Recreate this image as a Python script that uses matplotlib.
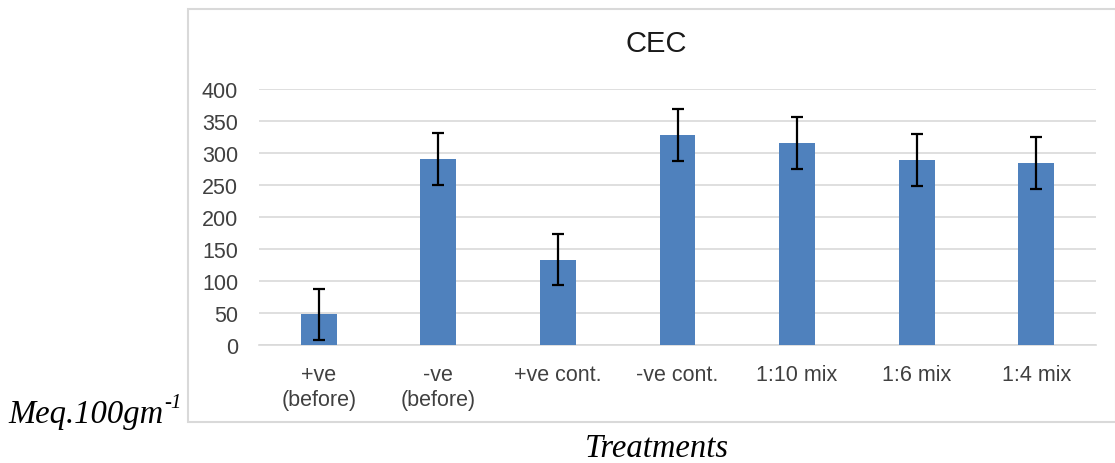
import matplotlib
matplotlib.use('Agg')
import matplotlib.pyplot as plt
from matplotlib.patches import Rectangle
import numpy as np

categories = ['+ve\n(before)', '-ve\n(before)', '+ve cont.', '-ve cont.', '1:10 mix', '1:6 mix', '1:4 mix']
cec = [48, 291, 133, 328, 316, 289, 284]
err = [40, 41, 40, 40, 41, 41, 41]
yticks = [0, 50, 100, 150, 200, 250, 300, 350, 400]

W, H = 1115, 464
fig = plt.figure(figsize=(W/100.0, H/100.0), dpi=100, facecolor='w')

# outer chart border
fig.patches.append(Rectangle((188.0/W, 1-423.0/H), (1116.0-188.0)/W, (423.0-10.0)/H,
                             transform=fig.transFigure, fill=False, edgecolor='#d9d9d9', linewidth=1.5))

ax = fig.add_axes([259.0/W, 1-346.0/H, (1096.0-259.0)/W, (346.0-90.0)/H])
x = np.arange(len(categories))
ax.bar(x, cec, width=0.30, color='#4f81bd', zorder=3)
ax.errorbar(x, cec, yerr=err, fmt='none', ecolor='black', elinewidth=1.6, capsize=4.5, capthick=1.6, zorder=4)

ax.set_xlim(-0.5, len(categories)-0.5)
ax.set_ylim(0, 400)
ax.set_yticks(yticks)
ax.set_xticks(x)
ax.set_xticklabels(categories, linespacing=1.2)
ax.grid(axis='y', color='#d9d9d9', linewidth=1.2, zorder=0)
for s in ['top', 'right', 'left']:
    ax.spines[s].set_visible(False)
ax.spines['bottom'].set_color('#d9d9d9')
ax.spines['bottom'].set_linewidth(1.2)
ax.tick_params(axis='both', length=0, labelsize=15.5, labelcolor='#404040',
               labelfontfamily='Liberation Sans')
ax.tick_params(axis='y', pad=15)
ax.tick_params(axis='x', pad=14)

fig.text(656.0/W, 1-44.0/H, 'CEC', ha='center', va='center', fontsize=21,
         family='Liberation Sans', color='#1a1a1a')

fig.text(8.0/W, 1-423.0/H, 'Meq.100gm', ha='left', va='baseline', fontsize=23.5,
         family='Liberation Serif', style='italic')
fig.text(164.0/W, 1-408.0/H, '-1', ha='left', va='baseline', fontsize=15,
         family='Liberation Serif', style='italic')
fig.text(657.0/W, 1-457.0/H, 'Treatments', ha='center', va='baseline', fontsize=23.5,
         family='Liberation Serif', style='italic')

fig.savefig('out.png', dpi=100)
